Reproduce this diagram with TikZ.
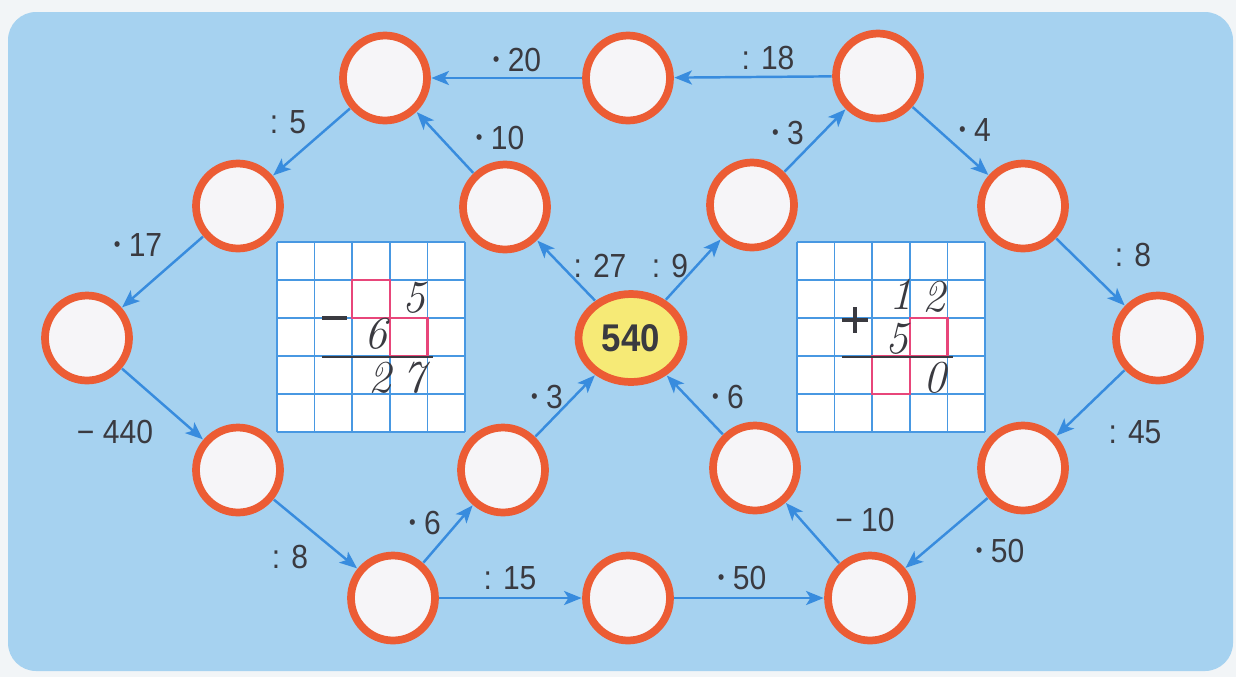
\documentclass[tikz,border=0pt]{standalone}
\usepackage{fontspec}
\setsansfont{Liberation Sans}
\newfontfamily\lblfont[FakeStretch=0.9]{Liberation Sans}
\usetikzlibrary{positioning,calc,arrows.meta,shapes.geometric}

\definecolor{skyblue}{RGB}{166,210,240}
\definecolor{paper}{RGB}{242,245,247}
\definecolor{ringred}{RGB}{236,92,52}
\definecolor{ringyellow}{RGB}{250,204,100}
\definecolor{discwhite}{RGB}{246,245,248}
\definecolor{sunyellow}{RGB}{246,234,118}
\definecolor{arrowblue}{RGB}{56,140,222}
\definecolor{gridblue}{RGB}{72,152,226}
\definecolor{boxpink}{RGB}{232,70,122}
\definecolor{inkgray}{RGB}{58,58,64}

\pgfdeclareradialshading{discshade}{\pgfpoint{0bp}{0bp}}{color(0bp)=(discwhite); color(42bp)=(discwhite); color(45.5bp)=(ringyellow); color(50bp)=(ringyellow)}
\pgfdeclareradialshading{sunshade}{\pgfpoint{0bp}{0bp}}{color(0bp)=(sunyellow); color(43bp)=(sunyellow); color(46bp)=(ringyellow); color(50bp)=(ringyellow)}

\newcommand{\mul}{\raisebox{2.6pt}{\fontsize{12}{12}\selectfont •}\ }

\begin{document}
\begin{tikzpicture}[x=0.02cm,y=-0.02cm,
	disc/.style={ellipse,draw=ringred,line width=4.4pt,shading=discshade,minimum width=1.68cm,minimum height=1.7cm,inner sep=0pt,outer sep=2.2pt},
	hubdisc/.style={disc,shading=sunshade,minimum width=2.1cm,minimum height=1.76cm,font={\lblfont\bfseries\fontsize{22}{24}\selectfont},text=inkgray},
	flow/.style={arrowblue,line width=1.4pt,-{Stealth[length=10pt,width=8pt,inset=2.5pt]},shorten >=0.3pt,shorten <=0.3pt},
	op/.style={font={\lblfont\fontsize{19}{22}\selectfont},text=inkgray},
	digit/.style={font={\itshape\fontsize{26}{28}\selectfont},text=inkgray},
	gridline/.style={gridblue,line width=1pt},
	pinkbox/.style={boxpink,line width=1.3pt}]
	\useasboundingbox (0,0) rectangle (1236,677);
	\fill[paper] (0,0) rectangle (1236,677);
	\fill[skyblue,rounded corners=16pt] (8,12) rectangle (1233,671);

	% the two squared panels
	\fill[white] (277,242) rectangle (465,432);
	\fill[white] (797,242) rectangle (985,432);
	\foreach \i in {0,...,5} {
		\draw[gridline] (277+37.6*\i,242) -- (277+37.6*\i,432);
		\draw[gridline] (797+37.6*\i,242) -- (797+37.6*\i,432);
		\draw[gridline] (277,242+38*\i) -- (465,242+38*\i);
		\draw[gridline] (797,242+38*\i) -- (985,242+38*\i);
	}
	\draw[pinkbox] (352.2,280) rectangle (389.8,318);
	\draw[pinkbox] (389.8,318) rectangle (427.4,356);
	\draw[pinkbox] (909.8,318) rectangle (947.4,356);
	\draw[pinkbox] (872.2,356) rectangle (909.8,394);

	\draw[inkgray,line width=1.8pt] (322,318) -- (347,318);
	\draw[inkgray,line width=1.6pt] (322,357) -- (433,357);
	\draw[inkgray,line width=2pt] (842,320) -- (868,320);
	\draw[inkgray,line width=2pt] (855,307) -- (855,333);
	\draw[inkgray,line width=1.6pt] (842,357) -- (953,357);

	\node[digit] (sa) at (414,298) {5};
	\node[digit] (sb) at (376,334) {6};
	\node[digit] (sc) at (380,378) {2};
	\node[digit] (sd) at (414,378) {7};
	\node[digit] (aa) at (901,294) {1};
	\node[digit] (ab) at (934,297) {2};
	\node[digit] (ac) at (897,339) {5};
	\node[digit] (ad) at (935,378) {0};

	% circles
	\node[disc] (topl) at (385,78) {};
	\node[disc] (topm) at (628,78) {};
	\node[disc] (topr) at (878,76) {};
	\node[disc] (upl) at (238,206) {};
	\node[disc] (upcl) at (505,207) {};
	\node[disc] (upcr) at (752,205) {};
	\node[disc] (upr) at (1023,206) {};
	\node[disc] (farl) at (87,338) {};
	\node[hubdisc] (hub) at (631,338) {540};
	\node[disc] (farr) at (1158,338) {};
	\node[disc] (lowl) at (238,470) {};
	\node[disc] (lowcl) at (503,470) {};
	\node[disc] (lowcr) at (755,468) {};
	\node[disc] (lowr) at (1023,468) {};
	\node[disc] (botl) at (393,598) {};
	\node[disc] (botm) at (628,598) {};
	\node[disc] (botr) at (870,598) {};

	\draw[flow] (topr) -- (topm);
	\draw[flow] (topm) -- (topl);
	\draw[flow] (topl) -- (upl);
	\draw[flow] (upl) -- (farl);
	\draw[flow] (farl) -- (lowl);
	\draw[flow] (lowl) -- (botl);
	\draw[flow] (botl) -- (lowcl);
	\draw[flow] (lowcl) -- (hub);
	\draw[flow] (botl) -- (botm);
	\draw[flow] (botm) -- (botr);
	\draw[flow] (botr) -- (lowcr);
	\draw[flow] (lowcr) -- (hub);
	\draw[flow] (hub) -- (upcl);
	\draw[flow] (upcl) -- (topl);
	\draw[flow] (hub) -- (upcr);
	\draw[flow] (upcr) -- (topr);
	\draw[flow] (topr) -- (upr);
	\draw[flow] (upr) -- (farr);
	\draw[flow] (farr) -- (lowr);
	\draw[flow] (lowr) -- (botr);

	% operations
	\node[op] (o20) at (517,60) {\mul20};
	\node[op] (o18) at (768,58) {: 18};
	\node[op] (o5) at (288,122) {: 5};
	\node[op] (o10) at (500,138) {\mul10};
	\node[op] (o3a) at (788,133) {\mul3};
	\node[op] (o4) at (975,130) {\mul4};
	\node[op] (o17) at (138,245) {\mul17};
	\node[op] (o27) at (600,266) {: 27};
	\node[op] (o9) at (670,266) {: 9};
	\node[op] (o8a) at (1133,255) {: 8};
	\node[op] (o440) at (115,432) {−\ 440};
	\node[op] (o45) at (1135,432) {: 45};
	\node[op] (o3b) at (547,397) {\mul3};
	\node[op] (o6a) at (728,397) {\mul6};
	\node[op] (o6b) at (425,523) {\mul6};
	\node[op] (o10b) at (865,520) {−\ 10};
	\node[op] (o8b) at (290,557) {: 8};
	\node[op] (o50a) at (1000,551) {\mul50};
	\node[op] (o15) at (510,578) {: 15};
	\node[op] (o50b) at (742,578) {\mul50};
\end{tikzpicture}
\end{document}
